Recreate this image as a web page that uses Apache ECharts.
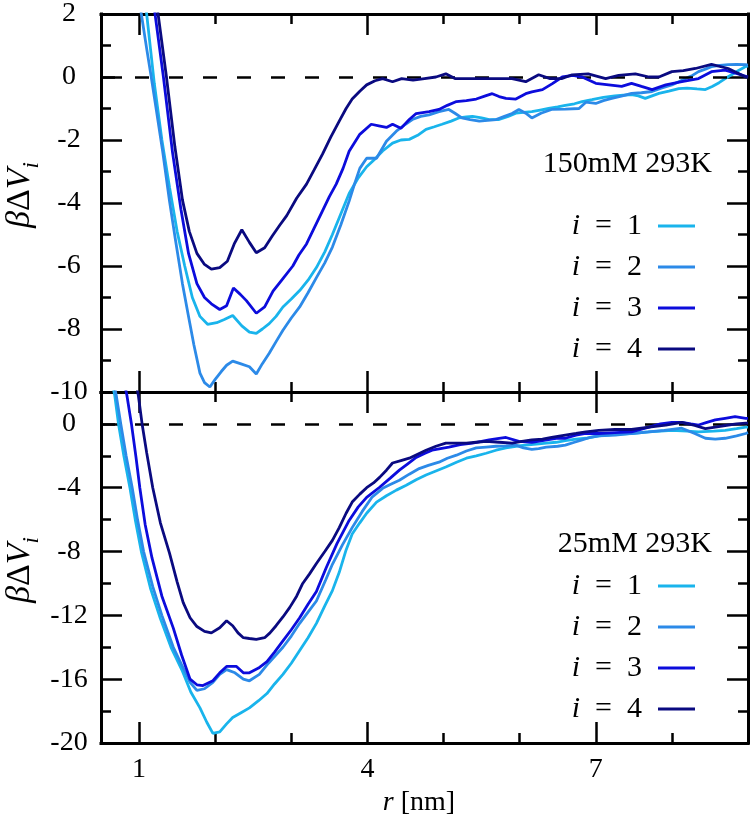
<!DOCTYPE html>
<html>
<head>
<meta charset="utf-8">
<script src="https://cdn.jsdelivr.net/npm/echarts@6.0.0/dist/echarts.min.js"></script>
<style>html,body{margin:0;padding:0;background:#fff}#c{width:750px;height:823px}</style>
</head>
<body>
<div id="c"></div>
<script>
// ---------- data (x = r [nm], y = beta*DeltaV_i) ----------
const seriesNames = ['i = 1', 'i = 2', 'i = 3', 'i = 4'];
const panelTitles = ['150mM 293K', '25mM 293K'];

const xMajorTicks = [1, 4, 7];
const xMinorTicks = [2, 3, 5, 6, 8];
const yTopMajorTicks = [2, 0, -2, -4, -6, -8, -10];
const yTopMinorTicks = [1, -1, -3, -5, -7, -9];
const yBotMajorTicks = [0, -4, -8, -12, -16, -20];
const yBotMinorTicks = [-2, -6, -10, -14, -18];

// 150mM panel
const top_i1 = [[1.02,3.4],[1.1,2.0],[1.2,-0.2],[1.3,-2.0],[1.4,-3.5],[1.5,-4.9],[1.6,-6.0],[1.7,-7.0],[1.8,-7.6],[1.9,-7.85],[2.02,-7.8],[2.12,-7.7],[2.23,-7.57],[2.35,-7.9],[2.45,-8.1],[2.54,-8.14],[2.62,-8.0],[2.71,-7.83],[2.8,-7.6],[2.89,-7.3],[3.0,-7.05],[3.11,-6.78],[3.22,-6.45],[3.33,-6.05],[3.44,-5.55],[3.54,-5.0],[3.65,-4.35],[3.76,-3.7],[3.88,-3.2],[3.99,-2.85],[4.1,-2.6],[4.2,-2.35],[4.33,-2.1],[4.44,-2.0],[4.55,-1.98],[4.66,-1.85],[4.77,-1.66],[4.88,-1.58],[4.98,-1.5],[5.1,-1.4],[5.2,-1.3],[5.3,-1.27],[5.38,-1.25],[5.5,-1.3],[5.6,-1.35],[5.73,-1.35],[5.85,-1.25],[5.95,-1.15],[6.05,-1.12],[6.16,-1.1],[6.27,-1.05],[6.38,-1.0],[6.5,-0.95],[6.6,-0.9],[6.72,-0.85],[6.82,-0.78],[6.95,-0.72],[7.1,-0.65],[7.25,-0.6],[7.36,-0.58],[7.47,-0.56],[7.56,-0.6],[7.65,-0.68],[7.74,-0.6],[7.83,-0.52],[7.96,-0.45],[8.09,-0.37],[8.2,-0.35],[8.33,-0.38],[8.44,-0.4],[8.53,-0.3],[8.62,-0.18],[8.7,-0.05],[8.79,0.08],[8.87,0.2],[8.97,0.33],[9.0,0.35]];
const top_i2 = [[0.95,3.3],[1.03,2.0],[1.1,0.9],[1.16,0.0],[1.23,-1.1],[1.31,-2.36],[1.4,-3.94],[1.48,-5.2],[1.57,-6.56],[1.65,-7.6],[1.72,-8.5],[1.8,-9.4],[1.86,-9.7],[1.93,-9.84],[2.0,-9.6],[2.08,-9.35],[2.15,-9.15],[2.23,-9.02],[2.33,-9.1],[2.45,-9.2],[2.54,-9.43],[2.62,-9.1],[2.71,-8.77],[2.8,-8.4],[2.89,-8.04],[3.0,-7.65],[3.11,-7.3],[3.22,-6.85],[3.33,-6.37],[3.44,-5.9],[3.54,-5.4],[3.65,-4.7],[3.76,-3.94],[3.83,-3.4],[3.9,-2.9],[3.99,-2.58],[4.12,-2.58],[4.25,-2.04],[4.38,-1.72],[4.5,-1.5],[4.59,-1.35],[4.7,-1.25],[4.81,-1.2],[4.94,-1.1],[5.07,-1.03],[5.15,-1.15],[5.24,-1.3],[5.35,-1.35],[5.47,-1.4],[5.58,-1.38],[5.69,-1.35],[5.8,-1.25],[5.9,-1.16],[5.99,-1.03],[6.08,-1.15],[6.16,-1.3],[6.28,-1.15],[6.42,-1.03],[6.6,-1.02],[6.78,-1.0],[6.87,-0.8],[7.0,-0.84],[7.1,-0.75],[7.21,-0.68],[7.35,-0.6],[7.47,-0.52],[7.6,-0.5],[7.74,-0.46],[7.87,-0.35],[8.0,-0.25],[8.09,-0.15],[8.18,-0.05],[8.27,0.05],[8.35,0.17],[8.44,0.25],[8.52,0.33],[8.63,0.37],[8.74,0.39],[8.85,0.4],[8.97,0.39],[9.0,0.38]];
const top_i3 = [[1.12,3.6],[1.21,2.0],[1.32,0.0],[1.44,-2.4],[1.55,-4.2],[1.65,-5.6],[1.76,-6.56],[1.86,-7.0],[1.95,-7.2],[2.06,-7.38],[2.15,-7.26],[2.24,-6.7],[2.33,-6.9],[2.41,-7.1],[2.54,-7.5],[2.65,-7.3],[2.76,-6.8],[2.89,-6.4],[3.02,-6.0],[3.1,-5.65],[3.2,-5.3],[3.3,-4.8],[3.41,-4.25],[3.5,-3.8],[3.59,-3.4],[3.68,-2.9],[3.76,-2.36],[3.9,-1.82],[4.05,-1.5],[4.15,-1.55],[4.25,-1.6],[4.33,-1.5],[4.44,-1.63],[4.55,-1.35],[4.64,-1.16],[4.81,-1.1],[4.94,-1.03],[5.05,-0.9],[5.17,-0.78],[5.3,-0.75],[5.43,-0.7],[5.55,-0.6],[5.64,-0.53],[5.73,-0.62],[5.82,-0.68],[5.95,-0.7],[6.08,-0.53],[6.16,-0.47],[6.3,-0.4],[6.43,-0.21],[6.56,0.0],[6.7,0.05],[6.82,0.0],[7.0,-0.2],[7.17,-0.25],[7.34,-0.3],[7.47,-0.2],[7.6,-0.3],[7.74,-0.4],[7.92,-0.25],[8.13,-0.15],[8.35,-0.05],[8.52,0.17],[8.7,0.22],[8.87,0.1],[9.0,0.0]];
const top_i4 = [[1.15,4.0],[1.25,2.0],[1.36,0.0],[1.47,-2.2],[1.57,-3.9],[1.66,-4.9],[1.76,-5.6],[1.86,-5.95],[1.95,-6.1],[2.06,-6.05],[2.16,-5.85],[2.25,-5.3],[2.35,-4.85],[2.45,-5.25],[2.54,-5.58],[2.65,-5.42],[2.75,-5.05],[2.85,-4.7],[2.94,-4.4],[3.07,-3.85],[3.2,-3.4],[3.3,-2.95],[3.41,-2.45],[3.52,-1.9],[3.63,-1.4],[3.72,-1.0],[3.8,-0.7],[3.9,-0.45],[3.99,-0.25],[4.1,-0.12],[4.2,-0.05],[4.33,-0.15],[4.45,-0.05],[4.6,-0.1],[4.75,-0.05],[4.9,0.0],[5.03,0.1],[5.15,-0.05],[5.3,-0.05],[5.45,-0.05],[5.6,-0.05],[5.75,-0.05],[5.9,-0.05],[6.08,-0.15],[6.25,0.07],[6.4,-0.05],[6.55,-0.05],[6.69,0.07],[6.9,0.1],[7.13,-0.05],[7.3,0.05],[7.52,0.1],[7.7,0.0],[7.83,0.0],[8.0,0.17],[8.15,0.2],[8.31,0.27],[8.52,0.4],[8.74,0.27],[8.97,0.0],[9.0,0.0]];

// 25mM panel
const bot_i1 = [[0.63,3.0],[0.68,1.8],[0.73,0.0],[0.8,-2.0],[0.88,-4.0],[0.95,-6.0],[1.03,-8.0],[1.15,-10.3],[1.28,-12.2],[1.42,-14.0],[1.57,-15.5],[1.68,-16.8],[1.8,-17.8],[1.89,-18.7],[1.97,-19.4],[2.06,-19.3],[2.15,-18.8],[2.23,-18.4],[2.34,-18.1],[2.45,-17.8],[2.57,-17.35],[2.68,-16.9],[2.78,-16.3],[2.89,-15.7],[3.0,-15.0],[3.11,-14.2],[3.22,-13.4],[3.33,-12.5],[3.44,-11.4],[3.54,-10.45],[3.63,-9.3],[3.72,-7.9],[3.8,-6.9],[3.9,-6.2],[3.99,-5.6],[4.12,-4.9],[4.25,-4.5],[4.38,-4.15],[4.51,-3.85],[4.64,-3.5],[4.77,-3.2],[4.9,-2.95],[5.03,-2.7],[5.17,-2.4],[5.3,-2.15],[5.43,-2.0],[5.56,-1.84],[5.69,-1.65],[5.82,-1.5],[5.95,-1.4],[6.08,-1.33],[6.22,-1.27],[6.35,-1.2],[6.48,-1.15],[6.6,-1.05],[6.74,-0.95],[6.87,-0.9],[7.04,-0.75],[7.25,-0.65],[7.47,-0.6],[7.7,-0.5],[8.0,-0.4],[8.2,-0.45],[8.35,-0.5],[8.55,-0.45],[8.7,-0.4],[8.85,-0.3],[8.97,-0.2],[9.0,-0.2]];
const bot_i2 = [[0.64,3.2],[0.7,1.8],[0.76,0.0],[0.83,-2.0],[0.91,-4.0],[0.98,-6.0],[1.06,-8.0],[1.18,-10.2],[1.3,-12.0],[1.45,-14.0],[1.58,-15.3],[1.67,-16.2],[1.76,-16.7],[1.86,-16.6],[1.97,-16.2],[2.06,-15.7],[2.15,-15.4],[2.26,-15.6],[2.37,-16.0],[2.45,-16.1],[2.58,-15.7],[2.7,-15.0],[2.89,-14.0],[3.0,-13.3],[3.11,-12.5],[3.22,-11.8],[3.33,-11.1],[3.45,-9.8],[3.54,-8.8],[3.67,-7.6],[3.8,-6.5],[3.93,-5.5],[4.06,-4.6],[4.2,-4.04],[4.3,-3.8],[4.42,-3.53],[4.55,-3.15],[4.68,-2.8],[4.8,-2.6],[4.94,-2.4],[5.05,-2.15],[5.17,-1.96],[5.3,-1.7],[5.43,-1.5],[5.56,-1.45],[5.69,-1.4],[5.82,-1.38],[5.95,-1.33],[6.05,-1.5],[6.16,-1.6],[6.25,-1.55],[6.35,-1.46],[6.5,-1.4],[6.6,-1.33],[6.72,-1.15],[6.82,-1.0],[6.92,-0.85],[7.04,-0.75],[7.26,-0.7],[7.47,-0.6],[7.69,-0.5],[7.9,-0.4],[8.13,-0.27],[8.3,-0.6],[8.44,-0.9],[8.57,-0.95],[8.7,-0.9],[8.85,-0.75],[8.97,-0.6],[9.0,-0.55]];
const bot_i3 = [[0.78,3.2],[0.84,1.8],[0.9,0.0],[0.96,-2.1],[1.01,-4.0],[1.08,-6.3],[1.17,-8.4],[1.3,-10.8],[1.45,-12.8],[1.56,-14.5],[1.67,-16.0],[1.76,-16.35],[1.84,-16.4],[1.97,-16.1],[2.06,-15.6],[2.15,-15.2],[2.28,-15.2],[2.37,-15.6],[2.45,-15.6],[2.57,-15.3],[2.68,-14.9],[2.78,-14.3],[2.89,-13.6],[3.0,-12.9],[3.11,-12.15],[3.22,-11.3],[3.33,-10.5],[3.46,-9.0],[3.6,-7.5],[3.76,-6.05],[3.88,-5.2],[3.99,-4.6],[4.16,-3.97],[4.3,-3.4],[4.42,-2.9],[4.53,-2.5],[4.64,-2.1],[4.75,-1.85],[4.85,-1.65],[4.96,-1.55],[5.07,-1.46],[5.22,-1.3],[5.38,-1.2],[5.5,-1.1],[5.6,-1.0],[5.73,-0.9],[5.82,-0.85],[5.99,-1.1],[6.16,-1.15],[6.3,-1.05],[6.48,-0.9],[6.6,-0.9],[6.74,-0.7],[6.87,-0.6],[7.04,-0.6],[7.25,-0.55],[7.47,-0.5],[7.7,-0.2],[7.85,0.0],[8.0,0.1],[8.13,0.1],[8.25,0.0],[8.35,-0.07],[8.46,0.1],[8.57,0.25],[8.7,0.35],[8.83,0.45],[8.97,0.35],[9.0,0.35]];
const bot_i4 = [[0.95,2.8],[0.99,1.8],[1.04,0.0],[1.1,-1.8],[1.18,-4.0],[1.28,-6.2],[1.4,-8.1],[1.5,-9.9],[1.58,-11.2],[1.67,-12.15],[1.76,-12.7],[1.86,-13.0],[1.95,-13.1],[2.06,-12.78],[2.15,-12.34],[2.23,-12.65],[2.3,-13.1],[2.37,-13.4],[2.45,-13.45],[2.54,-13.5],[2.65,-13.4],[2.72,-13.1],[2.8,-12.65],[2.89,-12.1],[2.98,-11.5],[3.07,-10.8],[3.15,-10.0],[3.24,-9.4],[3.33,-8.75],[3.44,-8.0],[3.54,-7.3],[3.63,-6.5],[3.72,-5.6],[3.8,-4.9],[3.9,-4.4],[3.99,-4.0],[4.08,-3.7],[4.16,-3.35],[4.25,-2.9],[4.33,-2.45],[4.44,-2.3],[4.55,-2.15],[4.66,-1.9],[4.77,-1.65],[4.9,-1.4],[5.03,-1.2],[5.17,-1.2],[5.3,-1.2],[5.43,-1.15],[5.56,-1.1],[5.73,-1.15],[5.9,-1.2],[6.03,-1.1],[6.16,-1.0],[6.3,-0.95],[6.42,-0.85],[6.6,-0.7],[6.74,-0.6],[6.87,-0.5],[7.04,-0.4],[7.25,-0.35],[7.47,-0.35],[7.7,-0.2],[7.92,-0.07],[8.13,0.1],[8.3,-0.1],[8.44,-0.3],[8.57,-0.2],[8.7,-0.1],[8.85,0.0],[8.97,0.05],[9.0,0.05]];

const topData = [top_i1, top_i2, top_i3, top_i4];
const botData = [bot_i1, bot_i2, bot_i3, bot_i4];
const colors = ['#19b4ec', '#2c8ae8', '#0c0cdc', '#0a0a80'];

// ---------- chart ----------
const FONT = "'Liberation Serif', 'DejaVu Serif', serif";
const FS = 28;     // tick labels
const FS_T = 30;   // annotations / legend
const X_MIN = 0.5, X_MAX = 9;
const TOP_Y = [-10, 2], BOT_Y = [-20, 2];

function xAxis(grid, pos, ticks, len, withLine, labels) {
  return {
    type: 'value', gridIndex: grid, position: pos, min: X_MIN, max: X_MAX,
    axisLine: { show: withLine, onZero: false, lineStyle: { color: '#000', width: 3, cap: 'square' } },
    axisTick: { show: true, inside: true, length: len, customValues: ticks, lineStyle: { color: '#000', width: 2.5 } },
    axisLabel: labels ? { show: true, customValues: ticks, color: '#000', fontFamily: FONT, fontSize: FS, margin: 13 } : { show: false },
    splitLine: { show: false }
  };
}
function yAxis(grid, pos, range, ticks, len, withLine, labels) {
  return {
    type: 'value', gridIndex: grid, position: pos, min: range[0], max: range[1],
    axisLine: { show: withLine, onZero: false, lineStyle: { color: '#000', width: 3, cap: 'square' } },
    axisTick: { show: true, inside: true, length: len, customValues: ticks, lineStyle: { color: '#000', width: 2.5 } },
    axisLabel: labels ? { show: true, customValues: ticks, color: '#000', fontFamily: FONT, fontSize: FS, align: 'center', margin: 32, formatter: v => String(v) } : { show: false },
    splitLine: { show: false }
  };
}

const xAxes = [
  xAxis(0, 'bottom', xMajorTicks, 21, true, false),
  xAxis(0, 'bottom', xMinorTicks, 10, false, false),
  xAxis(0, 'top', xMajorTicks, 21, true, false),
  xAxis(0, 'top', xMinorTicks, 10, false, false),
  xAxis(1, 'bottom', xMajorTicks, 21, true, true),
  xAxis(1, 'bottom', xMinorTicks, 10, false, false),
  xAxis(1, 'top', xMajorTicks, 21, true, false),
  xAxis(1, 'top', xMinorTicks, 10, false, false)
];
const yAxes = [
  yAxis(0, 'left', TOP_Y, yTopMajorTicks, 21, true, true),
  yAxis(0, 'left', TOP_Y, yTopMinorTicks, 10, false, false),
  yAxis(0, 'right', TOP_Y, yTopMajorTicks, 21, true, false),
  yAxis(0, 'right', TOP_Y, yTopMinorTicks, 10, false, false),
  yAxis(1, 'left', BOT_Y, yBotMajorTicks, 21, true, true),
  yAxis(1, 'left', BOT_Y, yBotMinorTicks, 10, false, false),
  yAxis(1, 'right', BOT_Y, yBotMajorTicks, 21, true, false),
  yAxis(1, 'right', BOT_Y, yBotMinorTicks, 10, false, false)
];

const zeroLine = {
  silent: true, symbol: ['none', 'none'], label: { show: false },
  lineStyle: { color: '#000', width: 2.5, type: [14, 20] },
  data: [{ yAxis: 0 }]
};

const series = [];
topData.forEach((d, k) => series.push({
  name: seriesNames[k], type: 'line', xAxisIndex: 0, yAxisIndex: 0, data: d,
  showSymbol: false, symbol: 'none', clip: true,
  lineStyle: { color: colors[k], width: 2.8 }, itemStyle: { color: colors[k] },
  markLine: k === 0 ? zeroLine : undefined, z: 3 + k
}));
botData.forEach((d, k) => series.push({
  name: seriesNames[k], type: 'line', xAxisIndex: 4, yAxisIndex: 4, data: d,
  showSymbol: false, symbol: 'none', clip: true,
  lineStyle: { color: colors[k], width: 2.8 }, itemStyle: { color: colors[k] },
  markLine: k === 0 ? zeroLine : undefined, z: 3 + k
}));

function legend(top) {
  return {
    data: seriesNames, orient: 'vertical', right: 55, top: top, align: 'right',
    icon: 'rect', itemWidth: 37, itemHeight: 3, itemGap: 11, padding: 0, selectedMode: false,
    formatter: n => '{it|i}\u2002=\u2002' + n.slice(-1),
    textStyle: {
      color: '#000', fontFamily: FONT, fontSize: FS_T, padding: [0, 11, 0, 0],
      rich: { it: { fontStyle: 'italic', fontFamily: FONT, fontSize: FS_T, color: '#000' } }
    }
  };
}

const nameRich = {
  it: { fontStyle: 'italic', fontFamily: FONT, fontSize: 34, fill: '#000', lineHeight: 46, verticalAlign: 'middle' },
  up: { fontFamily: FONT, fontSize: 34, fill: '#000', lineHeight: 46, verticalAlign: 'middle' },
  sub: { fontStyle: 'italic', fontFamily: FONT, fontSize: 23, fill: '#000', lineHeight: 23, verticalAlign: 'bottom' }
};
function yName(x, y) {
  return { type: 'text', x: x, y: y, rotation: Math.PI / 2, silent: true,
    style: { text: '{it|β}{up|Δ}{it|V}{sub|i}', rich: nameRich, align: 'center', verticalAlign: 'middle', fill: '#000' } };
}

const option = {
  animation: false,
  backgroundColor: '#fff',
  grid: [
    { left: 101, top: 12, width: 647, height: 380 },
    { left: 101, top: 392, width: 647, height: 351 }
  ],
  xAxis: xAxes,
  yAxis: yAxes,
  series: series,
  legend: [legend(211), legend(571)],
  title: [
    { text: panelTitles[0], right: 38, top: 149, padding: 0, textStyle: { fontFamily: FONT, fontSize: FS_T, fontWeight: 'normal', color: '#000' } },
    { text: panelTitles[1], right: 38, top: 529, padding: 0, textStyle: { fontFamily: FONT, fontSize: FS_T, fontWeight: 'normal', color: '#000' } }
  ],
  graphic: [
    yName(20, 195),
    yName(20, 570),
    { type: 'text', x: 419, y: 803, silent: true,
      style: { text: '{it|r} [nm]', rich: { it: { fontStyle: 'italic', fontFamily: FONT, fontSize: FS, fill: '#000' } },
        font: FS + 'px ' + FONT, fill: '#000', align: 'center', verticalAlign: 'middle' } }
  ]
};

const chart = echarts.init(document.getElementById('c'), null, { renderer: 'canvas' });
chart.setOption(option);
</script>
</body>
</html>
